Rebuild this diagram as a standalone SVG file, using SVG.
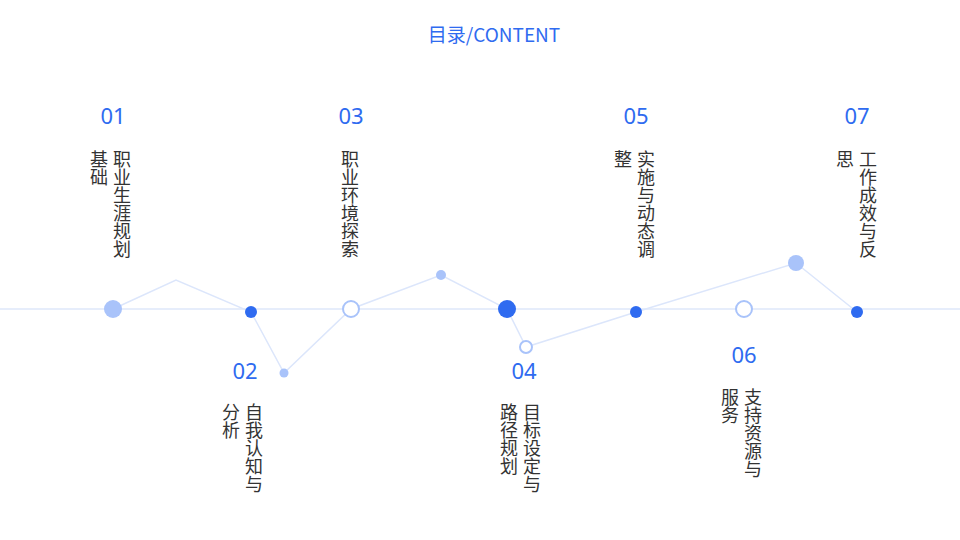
<svg xmlns="http://www.w3.org/2000/svg" width="960" height="540" viewBox="0 0 960 540">
<style>
.num{font-family:"Noto Sans","Noto Sans CJK SC",sans-serif;font-size:22px;fill:#2f6bf0;text-anchor:middle}
.v{font-family:"Noto Sans CJK SC",sans-serif;font-size:18px;fill:#333;writing-mode:vertical-rl}
.ln{fill:none;stroke:#dce6fb;stroke-width:1.5}
.lite{fill:#a9c3fa}.blue{fill:#2f6bf0}.hol{fill:#fff;stroke:#a9c3fa;stroke-width:2}
</style>
<rect width="960" height="540" fill="#fff"/>
<text x="494" y="42" font-family="Noto Sans CJK SC,sans-serif" font-size="19" fill="#2f6bf0" text-anchor="middle">目录/CONTENT</text>
<g id="connectors">
<line x1="0" y1="309" x2="960" y2="309" stroke="#e6edfb" stroke-width="2"/>
<polyline class="ln" points="113,309 176,280 251,312 284,373 351,309 441,275 507,309 526,347 636,312 796,263 857,312"/>
</g>
<g id="n01"><text class="num" x="113" y="124">01</text><text class="v" x="122" y="150">职业生涯规划</text><text class="v" x="99" y="150">基础</text><circle class="lite" cx="113" cy="309" r="9"/></g>
<g id="n02"><text class="num" x="245" y="379">02</text><text class="v" x="254" y="403">自我认知与</text><text class="v" x="231" y="403">分析</text><circle class="blue" cx="251" cy="312" r="6"/></g>
<circle class="lite" cx="284" cy="373" r="4.5"/>
<g id="n03"><text class="num" x="351" y="124">03</text><text class="v" x="350" y="150">职业环境探索</text><circle class="hol" cx="351" cy="309" r="8"/></g>
<circle class="lite" cx="441" cy="275" r="5"/>
<g id="n04"><text class="num" x="524" y="379">04</text><text class="v" x="532" y="403">目标设定与</text><text class="v" x="509" y="403">路径规划</text><circle class="blue" cx="507" cy="309" r="9"/><circle class="hol" cx="526" cy="347" r="6"/></g>
<g id="n05"><text class="num" x="636" y="124">05</text><text class="v" x="646" y="150">实施与动态调</text><text class="v" x="623" y="150">整</text><circle class="blue" cx="636" cy="312" r="6"/></g>
<g id="n06"><text class="num" x="744" y="363">06</text><text class="v" x="753" y="388">支持资源与</text><text class="v" x="730" y="388">服务</text><circle class="hol" cx="744" cy="309" r="8"/></g>
<circle class="lite" cx="796" cy="263" r="8"/>
<g id="n07"><text class="num" x="857" y="124">07</text><text class="v" x="868" y="150">工作成效与反</text><text class="v" x="845" y="150">思</text><circle class="blue" cx="857" cy="312" r="6"/></g>
</svg>
